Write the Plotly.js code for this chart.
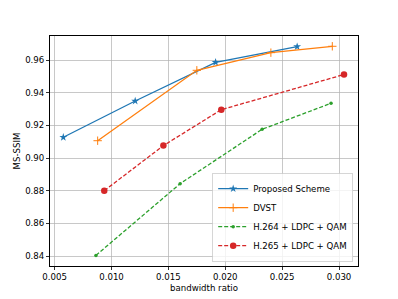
<!DOCTYPE html>
<html><head><meta charset="utf-8">
<script src="https://cdn.plot.ly/plotly-3.0.1.min.js"></script>
<style>html,body{margin:0;padding:0;background:#fff}#chart{width:398px;height:299px}</style>
</head><body><div id="chart"></div>
<script>
const seriesNames = ["Proposed Scheme", "DVST", "H.264 + LDPC + QAM", "H.265 + LDPC + QAM"];
const proposedX = [0.00576, 0.01208, 0.01915, 0.02632];
const proposedY = [0.9127, 0.9349, 0.9586, 0.9682];
const dvstX = [0.00878, 0.0175, 0.02401, 0.02941];
const dvstY = [0.9106, 0.9537, 0.9645, 0.9684];
const h264X = [0.00863, 0.01603, 0.02324, 0.0293];
const h264Y = [0.8404, 0.8843, 0.9176, 0.9335];
const h265X = [0.00936, 0.01456, 0.01965, 0.03044];
const h265Y = [0.8800, 0.9076, 0.9296, 0.9511];
const xTicks = [0.005, 0.010, 0.015, 0.020, 0.025, 0.030];
const yTicks = [0.84, 0.86, 0.88, 0.90, 0.92, 0.94, 0.96];

const font = {family: "DejaVu Sans", size: 8.6, color: "#000"};
const traces = [
  {x: proposedX, y: proposedY, name: seriesNames[0], mode: "lines+markers",
   line: {color: "#1f77b4", width: 1.3}, marker: {symbol: "star", size: 6, color: "#1f77b4"}},
  {x: dvstX, y: dvstY, name: seriesNames[1], mode: "lines+markers",
   line: {color: "#ff7f0e", width: 1.3}, marker: {symbol: "cross-thin", size: 6, line: {color: "#ff7f0e", width: 1}, color: "#ff7f0e"}},
  {x: h264X, y: h264Y, name: seriesNames[2], mode: "lines+markers",
   line: {color: "#2ca02c", width: 1.3, dash: "4px,2px"}, marker: {symbol: "circle", size: 3.5, color: "#2ca02c"}},
  {x: h265X, y: h265Y, name: seriesNames[3], mode: "lines+markers",
   line: {color: "#d62728", width: 1.3, dash: "4px,2px"}, marker: {symbol: "circle", size: 6.5, color: "#d62728"}}
];
const axisCommon = {showline: true, linecolor: "#000", linewidth: 1, mirror: true,
  ticks: "outside", ticklen: 3, tickwidth: 0.8, tickcolor: "#000",
  showgrid: true, gridcolor: "#b0b0b0", gridwidth: 0.7, zeroline: false, tickfont: font};
const layout = {
  width: 398, height: 299,
  margin: {l: 50, r: 40, t: 36, b: 33},
  paper_bgcolor: "#fff", plot_bgcolor: "#fff",
  font: font,
  showlegend: true,
  legend: {x: 0.985, y: 0.02, xanchor: "right", yanchor: "bottom",
    bgcolor: "rgba(255,255,255,0.8)", bordercolor: "#cccccc", borderwidth: 0.8,
    font: font, tracegroupgap: 0, itemwidth: 30},
  xaxis: Object.assign({}, axisCommon, {range: [0.00459, 0.03167], tickvals: xTicks,
    ticktext: xTicks.map(v => v.toFixed(3)),
    title: {text: "bandwidth ratio", font: font, standoff: 3}}),
  yaxis: Object.assign({}, axisCommon, {range: [0.8339, 0.9747], tickvals: yTicks,
    ticktext: yTicks.map(v => v.toFixed(2)),
    title: {text: "MS-SSIM", font: font, standoff: 3}})
};
Plotly.newPlot("chart", traces, layout, {staticPlot: true, displayModeBar: false});
</script></body></html>
